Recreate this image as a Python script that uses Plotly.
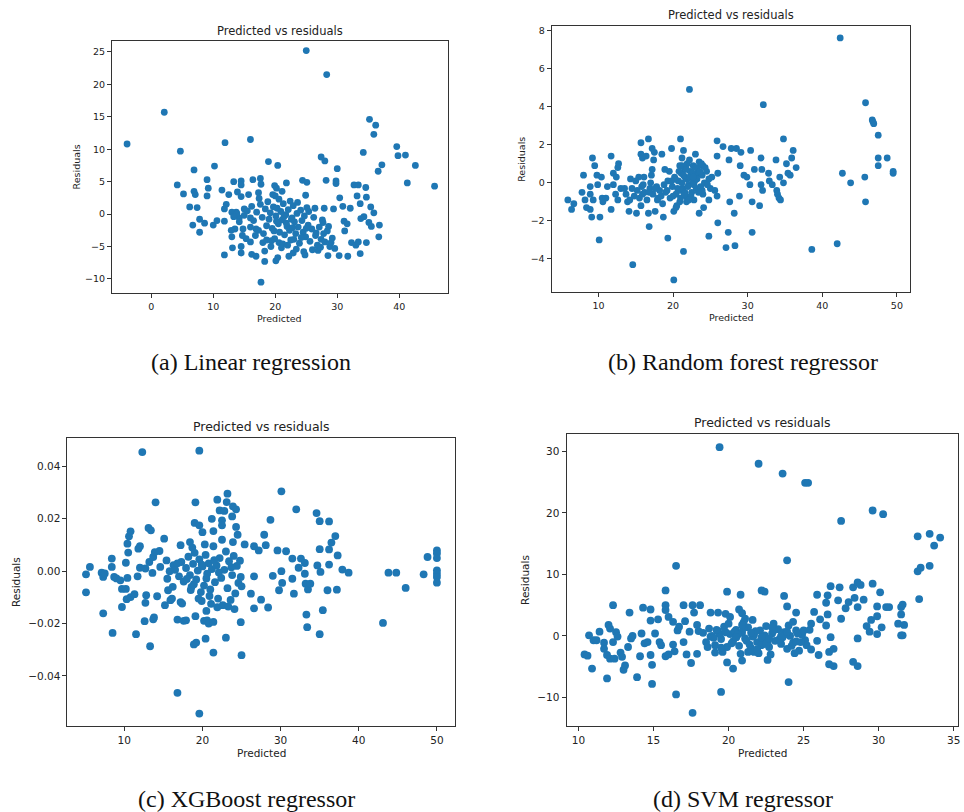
import plotly.graph_objects as go

# ---------------- DATA ----------------
# (a) Linear regression
lin_pred = [-3.9, 2.1, 4.7, 4.2, 5.2, 6.9, 6.2, 6.7, 6.9, 7.1, 7.4, 7.8, 7.8, 8.6, 9.0, 9.2, 9.0, 10.2, 10.0, 10.6,
            11.9, 11.4, 11.8, 11.8, 11.8, 12.5, 13.0, 13.0, 13.1, 13.3, 13.5, 13.9, 14.5, 14.5, 14.5, 14.5, 14.5, 14.7,
            13.7, 14.2, 15.0, 16.0, 15.7, 16.0, 16.2, 16.4, 16.0, 16.9, 16.9, 17.6, 17.7, 17.3, 17.7, 18.3, 18.3, 18.9,
            19.4, 19.9, 20.2, 20.4, 20.1, 20.4, 20.0, 21.1, 21.8, 22.2, 22.9, 20.6, 21.2, 24.4, 25.1, 24.9, 24.8, 25.0,
            28.3, 27.4, 28.0, 28.2, 26.9, 27.6, 27.9, 28.5, 30.0, 29.8, 29.8, 29.4, 30.4, 30.3, 31.7, 30.9, 31.1, 31.2,
            31.6, 32.1, 32.3, 32.7, 33.0, 33.4, 33.4, 33.7, 33.2, 33.7, 33.8, 34.2, 34.3, 34.6, 34.7, 34.7, 35.1, 35.2,
            36.2, 35.9, 35.4, 35.9, 36.6, 37.2, 36.8, 36.7, 35.5, 39.6, 39.8, 41.0, 41.3, 42.6, 45.7,
            15.0, 15.5, 16.2, 16.5, 17.0, 17.3, 17.6, 17.9, 18.1, 18.4, 18.6, 18.8, 19.0, 19.2, 19.5, 19.7, 19.9, 20.1,
            20.3, 20.5, 20.7, 20.9, 21.1, 21.3, 21.5, 21.7, 21.9, 22.1, 22.3, 22.5, 22.7, 22.9, 23.1, 23.3, 23.5, 23.7,
            23.9, 24.1, 24.3, 24.5, 24.7, 24.9, 25.1, 25.3, 25.6, 25.9, 26.2, 26.5, 26.8, 27.1, 27.4, 27.7, 28.0, 28.4,
            28.8, 29.2, 29.6, 14.2, 13.8, 16.8, 18.0, 19.3, 21.0, 22.0, 23.4, 24.6, 26.0, 27.3, 20.6, 22.4, 23.6, 19.6,
            17.4, 21.8, 22.8, 20.2, 24.2, 25.0, 26.6, 25.4, 22.6, 21.4, 23.0, 19.8, 18.6, 26.4, 27.8, 28.6, 29.0, 16.0,
            15.3, 14.8, 13.3, 12.9, 12.1]
lin_resid = [10.8, 15.7, 9.7, 4.5, 3.1, 6.8, 1.1, -1.7, 3.5, 3.0, 1.0, -0.8, -2.8, -1.4, 5.3, 4.0, 2.8, 7.4, -1.7, -1.0,
             11.0, 3.7, 0.8, -1.1, -6.3, 3.0, 0.3, -3.5, -5.2, 5.0, -2.3, 3.4, 5.1, 4.5, 2.7, -5.0, -6.0, -3.3,
             0.3, -0.6, 0.8, 11.5, 3.0, -0.6, -6.2, 5.3, -4.3, -6.5, -2.3, 5.5, 4.6, 3.3, -10.5, -7.3, -5.7, 8.1,
             -4.1, 4.4, 4.0, 7.5, -7.2, -6.7, 2.8, 3.5, 4.8, -6.5, -6.0, -4.4, -4.6, 5.2, 4.9, 2.9, -6.3, 25.2,
             21.5, 8.8, 8.2, 5.2, -5.6, -0.9, 0.9, -6.4, 7.0, 5.1, 4.7, 0.8, 2.5, -6.4, -6.5, 1.2, -1.1, -2.6,
             -1.5, 0.9, -4.4, 4.5, -4.8, 4.5, -4.3, -6.1, 2.8, 1.6, -0.7, 9.5, -0.4, 4.1, -4.4, 2.6, -1.3, 14.6,
             13.7, 12.3, 1.1, 0.2, 6.6, 7.6, -1.7, -3.5, -1.9, 10.4, 9.0, 9.1, 4.8, 7.5, 4.3,
             -0.2, 0.5, 1.2, -1.0, 0.3, -2.5, 1.5, -0.5, -3.0, 0.8, -1.8, 1.9, -0.8, 0.2, -2.2, 1.1, -3.8, -0.3,
             0.9, -1.5, -2.8, 0.4, -0.9, 1.6, -3.2, -0.1, -1.9, 0.7, -2.5, -4.0, -0.6, 1.3, -1.2, -3.0, 0.1, -2.0,
             -4.5, 0.6, -1.0, -2.8, -0.3, -3.5, 1.0, -1.7, -4.2, -2.3, -0.5, -3.3, -4.8, -2.0, -3.9, -1.3, -4.3, -2.6,
             -5.0, -3.7, -5.3, -1.2, 0.1, -3.3, -4.4, -5.0, -5.2, -4.8, -5.4, -5.8, -5.5, -5.1, 2.3, 2.0, 1.8, 3.0,
             2.4, -1.4, -2.1, -1.1, -3.6, -2.2, -2.9, 0.4, -0.8, -0.4, -3.9, -2.6, -4.0, 0.9, -3.0, -1.9, -4.4, -2.0,
             -3.8, -2.3, -0.4, -2.5, 1.5]

# (b) Random forest regressor
rf_pred = [5.9, 6.4, 6.7, 8.0, 7.8, 8.2, 8.4, 8.9, 8.9, 8.9, 9.1, 9.2, 9.5, 9.3, 9.8, 9.9, 10.1, 10.2, 10.4, 10.5,
           10.6, 11.0, 11.2, 11.7, 11.7, 12.0, 12.0, 12.4, 12.6, 12.7, 12.3, 12.6, 13.0, 13.7, 13.9, 14.1, 14.3, 14.6,
           15.1, 15.4, 15.7, 15.7, 15.7, 15.9, 16.1, 16.4, 16.7, 16.7, 16.8, 17.2, 17.4, 17.5, 17.2, 17.1, 17.6, 17.9,
           18.5, 18.7, 18.9, 19.3, 19.8, 20.1, 20.1, 20.4, 21.0, 21.2, 21.4, 21.4, 22.2, 21.9, 23.0, 23.5, 24.0, 24.1,
           24.8, 24.8, 25.9, 25.9, 25.9, 26.0, 26.0, 26.7, 27.1, 27.4, 27.6, 27.5, 27.8, 28.2, 28.3, 28.5, 29.1, 28.9,
           29.0, 29.5, 29.9, 30.4, 30.3, 30.6, 30.6, 30.9, 31.6, 31.8, 31.9, 32.1, 31.8, 32.0, 32.8, 32.9, 33.3, 33.8,
           33.9, 34.0, 34.2, 34.4, 34.3, 34.8, 34.8, 35.2, 35.4, 35.7, 35.9, 36.1, 36.5, 38.6, 42.0, 42.4, 42.7, 43.8,
           45.8, 45.7, 45.8, 46.7, 46.8, 46.9, 47.5, 47.5, 47.5, 48.7, 49.5, 49.5,
           14.5, 14.8, 15.2, 15.5, 15.8, 16.2, 16.5, 16.9, 17.3, 17.8, 18.2, 18.6, 19.0, 19.3, 19.6, 19.9, 20.2, 20.4,
           20.7, 20.9, 21.1, 21.3, 21.5, 21.7, 21.9, 22.1, 22.3, 22.5, 22.7, 22.9, 23.1, 23.3, 23.5, 23.7, 23.9, 24.2,
           24.5, 24.8, 25.2, 25.6, 21.0, 21.6, 22.2, 22.8, 20.5, 19.5, 18.8, 18.0, 17.0, 16.0, 15.0, 14.2, 13.5, 21.2,
           22.6, 23.2, 24.0, 23.8, 20.0, 21.8, 25.0,
           20.3, 20.6, 20.8, 21.0, 21.2, 21.4, 21.6, 21.8, 22.0, 22.2, 22.4, 22.6, 22.8, 23.0, 23.2, 23.4, 23.6, 22.1,
           21.5, 20.9, 22.7, 23.9, 24.3, 24.6, 19.8, 19.2, 18.4, 17.6, 16.8, 15.9]
rf_resid = [-0.9, -1.4, -1.1, 0.4, -0.5, -0.9, -1.3, -0.2, -0.6, -1.4, -1.8, 1.3, 0.9, -0.9, 0.4, -0.1, -3.0, -1.8, 0.3, -0.8,
            -1.0, -0.8, -0.2, 1.4, -1.4, 0.5, -0.1, 0.3, 0.8, 1.0, -0.6, -0.9, -0.3, -0.6, -1.0, -1.5, 0.2, -4.3,
            -1.6, 0.3, -1.2, 2.1, 1.5, 1.3, 0.3, 1.4, 2.3, -1.6, -2.3, 1.8, 1.2, 1.6, 0.7, 0.4, -1.5, -0.9,
            1.5, -1.8, 0.7, -2.9, 1.8, -1.5, -5.1, -1.3, 2.3, 1.3, 1.7, -3.6, 4.9, 1.0, 1.5, -1.6, 0.9, -1.3,
            -2.8, -0.9, 2.2, 1.4, -0.7, -2.1, 0.5, 1.9, -3.4, -2.6, -1.0, 1.2, 1.8, -1.6, -3.3, 1.8, 1.6, -0.7,
            0.9, 0.4, 0.3, 1.7, -0.1, -1.0, -2.6, 0.7, -1.2, 1.3, 0.7, 4.1, -0.1, -0.4, 0.5, 0.1, -0.1, 1.2,
            -0.4, -0.6, -0.8, -0.9, 0.3, 2.3, 0.0, 1.0, 0.5, 0.4, 1.3, 1.7, 0.8, -3.5, -3.2, 7.6, 0.5, 0.0,
            4.2, 0.3, -1.0, 3.3, 3.2, 3.1, 2.5, 1.3, 0.9, 1.3, 0.6, 0.5,
            -0.3, -0.7, -0.4, -0.8, -0.2, -0.5, -0.9, -0.3, -0.6, -0.2, -0.4, -1.1, -0.5, 0.1, -0.8, -0.2, 0.3, -0.6,
            0.1, -1.0, 0.5, -0.3, 0.8, -0.7, 0.2, -0.1, 0.6, -0.5, 0.9, 0.1, -0.3, 0.5, 1.1, -0.2, 0.4, 0.0,
            0.6, 0.2, 0.3, -0.4, -0.4, 0.3, 1.2, -0.9, -1.2, 0.6, -0.1, -0.8, 0.0, -0.1, 0.1, -0.9, -0.3, 0.9,
            0.0, 0.8, -0.6, 1.0, -0.7, -1.0, -0.3,
            0.2, -0.3, 0.6, -0.8, 0.0, 0.4, -0.5, 0.7, -0.2, 0.3, -0.7, 0.5, -0.1, 0.8, 0.2, -0.5, 0.6, -0.9,
            -0.6, 0.9, 0.3, -0.4, 0.8, -0.1, 0.1, -0.4, -0.7, -0.3, -0.5, -0.6]

# (c) XGBoost regressor
xgb_pred = [5.1, 5.1, 5.6, 7.1, 7.3, 7.3, 7.5, 8.4, 8.4, 8.5, 8.7, 9.0, 9.5, 9.7, 9.7, 10.2, 10.2, 10.4, 10.5, 10.4,
            10.6, 10.8, 10.3, 10.8, 11.3, 11.5, 11.7, 11.8, 12.0, 12.0, 12.3, 12.7, 12.8, 12.7, 12.6, 13.1, 13.4, 13.3,
            13.2, 13.6, 13.7, 13.7, 13.8, 14.0, 13.9, 14.2, 14.5, 14.6, 15.1, 15.2, 15.4, 15.5, 15.6, 15.9, 16.1, 16.3,
            16.8, 16.8, 17.2, 17.2, 17.4, 17.6, 17.9, 18.4, 18.5, 19.1, 19.0, 19.1, 18.9, 19.2, 19.6, 19.6, 19.6, 20.0,
            19.9, 20.2, 20.4, 20.5, 20.6, 20.8, 21.2, 21.4, 21.4, 21.4, 21.9, 22.2, 22.5, 22.5, 22.8, 23.2, 23.1, 23.0,
            23.9, 24.3, 23.8, 23.9, 24.3, 24.5, 25.0, 24.9, 24.9, 25.4, 26.2, 26.6, 26.6, 26.6, 27.2, 27.5, 27.9, 28.1,
            28.4, 28.7, 29.0, 29.6, 29.8, 30.1, 30.1, 30.2, 30.7, 31.5, 31.5, 31.7, 32.0, 32.3, 32.6, 33.1, 33.1, 33.2,
            33.3, 33.4, 33.5, 33.8, 34.6, 34.7, 35.0, 35.0, 35.0, 35.1, 35.4, 36.2, 36.2, 36.2, 36.0, 36.5, 37.0, 37.3,
            37.2, 37.9, 38.7, 43.1, 43.8, 44.8, 46.0, 48.3, 48.8, 50.0, 50.0, 50.0, 50.0, 50.0, 50.0, 50.0,
            16.5, 17.0, 17.3, 17.6, 17.9, 18.2, 18.4, 18.6, 18.8, 19.0, 19.2, 19.4, 19.6, 19.8, 20.0, 20.2, 20.4, 20.6,
            20.8, 21.0, 21.2, 21.4, 21.6, 21.8, 22.0, 22.2, 22.4, 22.6, 22.8, 23.0, 23.2, 23.4, 23.6, 23.8, 24.0, 24.2,
            24.4, 24.6, 24.8, 25.0, 18.0, 18.7, 19.5, 20.3, 21.1, 21.9, 22.5, 16.8, 16.2, 15.8, 19.9, 20.5, 21.5, 22.1,
            23.3, 24.1, 23.7, 18.9, 20.9]
xgb_resid_milli = [-1.2, -8.1, 1.6, -0.6, -2.2, -16.1, -0.9, 4.8, 1.6, -23.6, -2.2, -2.8, -3.5, -6.8, -13.7, 3.2, -6.8,
                   -2.6, 7.1, 10.5, 13.3, 15.2, -10.7, -9.9, -8.8, -24.1, -2.0, 8.6, 9.5, 1.3, 45.5, 1.0, -9.2, -12.1,
                   -19.1, 16.5, 15.6, -28.7, 3.5, -0.7, 5.4, -18.4, -17.7, 26.3, 7.3, -9.6, 7.7, 1.6, 12.4, -13.0, 4.1,
                   -2.9, -7.3, -11.1, -10.5, 2.3, -46.5, -18.5, 9.9, -11.8, -12.4, -19.0, -18.8, 11.1, -7.2, 26.3, 18.4,
                   -17.2, -28.0, -27.3, 46.0, -54.4, 17.5, 14.9, -11.4, -19.0, -25.8, -15.2, -18.8, -20.0, 20.0, 15.3,
                   -31.1, -19.4, 27.3, 23.2, 19.4, 17.5, 23.0, 29.6, 26.4, -25.4, 24.7, 23.6, 20.9, 11.1, 16.9, 13.9,
                   -32.1, -19.5, -2.2, 10.2, -8.6, 9.5, -2.0, -14.2, 7.9, -10.9, 13.9, 9.9, -13.9, 19.6, -1.8, 7.9,
                   -7.3, 30.5, 0.0, -4.5, 7.6, 4.8, -2.9, -8.6, 23.6, 1.3, 4.8, 3.1, -1.0, -4.8, -16.6, -21.4, -7.0,
                   -4.8, 22.2, 2.2, 19.1, 8.4, -24.1, -0.3, -14.9, 19.0, 2.5, 8.3, -7.3, 10.9, 13.4, 6.0, -7.1, 0.6,
                   -0.6, -19.8, -0.6, -0.6, -6.4, -1.2, 5.4, 7.9, 6.7, 5.0, 0.3, -1.0, -2.2, -4.4,
                   0.5, -2.0, 3.5, -4.0, 1.2, 5.5, -1.5, -6.0, 2.8, 7.0, -3.2, 0.2, 4.5, -8.0, 1.8, -5.5, 6.2, -1.0,
                   3.0, -7.0, 0.8, 9.5, -4.2, 2.2, -10.5, 5.0, -2.6, -13.0, 0.5, 7.5, -6.5, 3.8, -11.0, -1.5, 5.8,
                   -8.5, 2.0, -4.5, 4.0, -5.8, -3.0, 9.0, -10.5, 10.2, -12.5, -13.8, 12.0, 3.0, -6.0, 0.0, 2.5, -2.8,
                   4.2, -0.5, -13.5, -14.5, 1.5, -5.0, -9.5]
xgb_resid = [v / 1000 for v in xgb_resid_milli]

# (d) SVM regressor
svm_pred = [10.4, 10.6, 10.7, 10.9, 11.0, 11.2, 11.4, 11.7, 11.9, 11.7, 11.9, 12.0, 12.1, 12.1, 12.3, 12.3, 12.4, 12.5,
            12.6, 12.8, 12.9, 13.0, 13.1, 13.3, 13.4, 13.5, 13.6, 13.9, 14.1, 14.2, 14.3, 14.4, 14.8, 14.8, 14.8, 14.9,
            14.9, 15.1, 15.3, 15.4, 15.8, 15.8, 15.8, 15.8, 16.0, 16.3, 16.3, 16.5, 16.5, 16.6, 16.7, 17.0, 17.1, 17.4,
            17.5, 17.6, 17.6, 17.7, 17.9, 17.9, 18.1, 18.8, 18.8, 19.1, 19.3, 19.4, 19.5, 19.8, 19.9, 19.9, 20.1, 20.3,
            20.5, 20.8, 20.7, 20.9, 21.1, 20.9, 21.6, 21.7, 22.0, 22.2, 22.4, 22.6, 23.6, 23.7, 23.9, 23.9, 24.0, 24.3,
            24.5, 25.1, 25.3, 25.1, 25.4, 25.5, 25.7, 25.9, 25.9, 26.0, 26.1, 26.5, 26.6, 26.5, 26.6, 26.8, 26.7, 26.8,
            26.7, 27.0, 27.0, 27.3, 27.4, 27.5, 27.5, 27.8, 28.0, 28.3, 28.4, 28.3, 28.6, 28.8, 28.6, 28.6, 28.6, 29.0,
            29.2, 29.4, 29.5, 29.6, 29.6, 29.9, 29.9, 29.9, 30.1, 30.2, 30.3, 30.5, 30.7, 31.3, 31.5, 31.5, 31.5, 31.6,
            31.6, 31.7, 32.6, 32.6, 32.8, 32.7, 33.4, 33.4, 33.7, 34.1,
            18.3, 18.5, 18.7, 18.9, 19.1, 19.3, 19.5, 19.7, 19.9, 20.1, 20.3, 20.5, 20.7, 20.9, 21.1, 21.3, 21.5, 21.7,
            21.9, 22.1, 22.3, 22.5, 22.7, 22.9, 23.1, 23.3, 23.5, 23.7, 23.9, 24.1, 24.3, 24.5, 24.7, 24.9, 20.0, 21.0,
            22.0, 23.0, 24.0, 21.6, 22.4, 23.6, 19.6, 20.8, 22.8, 17.0, 16.4, 17.2, 15.5, 16.0, 14.6, 18.0, 25.2, 25.5,
            24.4, 22.2, 21.2, 20.4, 19.4,
            19.0, 19.2, 19.8, 20.2, 20.6, 21.0, 21.4, 21.8, 22.2, 22.6, 23.0, 23.4, 23.8, 24.2, 24.6, 19.5, 20.5, 21.5,
            22.5, 23.5, 24.5, 20.9, 21.9, 22.9, 23.9, 21.3, 22.7, 18.6, 24.8, 25.0]
svm_resid = [-3.0, -3.2, 0.1, -5.3, -0.7, -0.7, 0.7, -1.1, -6.9, -2.1, -3.1, 1.8, 1.2, -3.7, 5.0, -1.0, -3.7, 0.6,
             -0.1, -2.7, -3.4, -5.5, -4.8, -1.8, 3.8, -0.4, 0.0, -6.7, -3.3, 0.4, 4.6, -1.2, 2.5, 4.3, -3.1, -7.8,
             -4.7, 0.4, 2.7, -1.0, -3.3, 7.4, 5.0, 4.2, 3.1, 2.3, -1.4, -9.5, 11.4, 0.9, 1.5, 5.0, 2.4, 0.7,
             -4.4, 5.0, -12.5, 3.8, 1.8, -2.9, 5.0, 3.8, -0.1, -2.7, 3.8, 30.7, -9.1, 3.6, 7.2, -4.3, 3.1, -5.3,
             -0.2, 6.7, 4.3, 3.7, 2.8, -4.0, 2.6, -2.6, 28.0, 7.4, 7.2, -3.9, 26.4, 6.5, 4.8, 12.3, -7.5, 2.3,
             3.8, 24.9, 24.9, -0.7, 1.0, 2.0, 3.9, -0.8, 6.7, -3.1, 2.7, 5.4, 6.6, 1.7, 3.5, -0.2, -2.6, 8.1,
             -4.6, -2.1, -4.9, 5.8, 7.9, 18.7, 2.8, 4.5, 5.5, 7.9, 6.2, -4.2, 8.7, 8.3, 4.7, -0.4, -4.9, 5.9,
             1.6, 0.7, 2.6, 20.4, 8.5, 0.3, 3.2, 4.8, 7.1, 1.4, 19.8, 4.7, 4.7, 2.0, 4.7, 3.5, 0.1, 5.1,
             0.1, 1.8, 16.2, 10.5, 11.1, 6.0, 16.6, 11.4, 14.7, 16.0,
             0.5, -1.0, 1.2, 0.0, -1.5, 0.8, -0.5, 1.5, -1.8, 0.3, -0.9, 1.0, -1.6, 0.5, -0.4, 1.4, -2.0, 0.2,
             -1.0, 0.9, -0.6, 1.6, -1.8, 0.4, -0.8, 1.1, -1.3, 0.6, -2.1, 0.0, -1.1, 0.9, -2.4, 0.2, 2.0, 2.2,
             -2.8, 2.0, 1.7, -0.1, 0.1, -0.2, -2.6, -2.9, -3.0, -1.0, -2.5, -3.0, -1.5, -3.0, -1.0, 0.8, -1.5, -2.2,
             -2.8, -1.5, -0.8, 0.7, 0.3,
             -0.3, 1.0, 0.6, -1.2, 0.2, 1.3, -1.4, 0.8, -0.2, -1.0, 0.9, -0.5, 0.3, -1.6, 0.4, -1.9, -0.2, 0.5,
             -1.3, 0.0, -0.9, 1.8, -2.2, 1.4, 0.7, -2.6, -0.4, -1.8, -1.0, 0.9]

captions = ["(a) Linear regression", "(b) Random forest regressor",
            "(c) XGBoost regressor", "(d) SVM regressor"]
panel_title = "Predicted vs residuals"

# ---------------- LAYOUT ----------------
W, H = 964, 812
BLUE = "#1f77b4"
FONT = "DejaVu Sans"

def fx(px):
    return px / W

def fy(py):
    return 1 - py / H

panels = [
    dict(x=lin_pred, y=lin_resid, box=(112.3, 449.0, 40.0, 292.7), xr=[-6.34, 47.8], yr=[-12.22, 26.69],
         xt=[0, 10, 20, 30, 40], yt=[-10, -5, 0, 5, 10, 15, 20, 25], yfmt=None, fs=9.5, ts=11.5, ms=6.8,
         title_y=30, xl_y=317.5, yl_x=76.5, cap=(252, 361)),
    dict(x=rf_pred, y=rf_resid, box=(553.3, 913.3, 25.0, 291.7), xr=[3.72, 51.82], yr=[-5.75, 8.23],
         xt=[10, 20, 30, 40, 50], yt=[-4, -2, 0, 2, 4, 6, 8], yfmt=None, fs=9.5, ts=11.5, ms=6.8,
         title_y=14.3, xl_y=316.5, yl_x=522.3, cap=(745, 361)),
    dict(x=xgb_pred, y=xgb_resid, box=(67.7, 456.0, 437.7, 726.0), xr=[2.73, 52.26], yr=[-0.0592, 0.0508],
         xt=[10, 20, 30, 40, 50], yt=[-0.04, -0.02, 0.0, 0.02, 0.04], yfmt=".2f", fs=10.5, ts=12.5, ms=7.8,
         title_y=426, xl_y=753.3, yl_x=16, cap=(247, 799)),
    dict(x=svm_pred, y=svm_resid, box=(568.3, 960.7, 434.0, 726.0), xr=[9.20, 35.27], yr=[-14.66, 32.76],
         xt=[10, 15, 20, 25, 30, 35], yt=[-10, 0, 10, 20, 30], yfmt=None, fs=10.5, ts=12.5, ms=7.8,
         title_y=422.3, xl_y=753.3, yl_x=527.3, cap=(745, 799)),
]

fig = go.Figure()
annotations = []
layout_axes = {}
for i, p in enumerate(panels, start=1):
    l, r, t, b = p["box"]
    xa = "x" if i == 1 else f"x{i}"
    ya = "y" if i == 1 else f"y{i}"
    fig.add_trace(go.Scatter(x=p["x"], y=p["y"], mode="markers", xaxis=xa, yaxis=ya,
                             marker=dict(color=BLUE, size=p["ms"], line=dict(width=0)),
                             showlegend=False, hoverinfo="x+y"))
    common = dict(showline=True, mirror=True, linecolor="#333333", linewidth=1, showgrid=False,
                  zeroline=False, ticks="outside", ticklen=4, tickcolor="#333333", tickwidth=1,
                  tickfont=dict(family=FONT, size=p["fs"], color="#222222"))
    xkey = "xaxis" if i == 1 else f"xaxis{i}"
    ykey = "yaxis" if i == 1 else f"yaxis{i}"
    layout_axes[xkey] = dict(domain=[fx(l), fx(r)], range=p["xr"], anchor=ya, tickmode="array",
                             tickvals=p["xt"], **common)
    ydict = dict(domain=[fy(b), fy(t)], range=p["yr"], anchor=xa, tickmode="array", tickvals=p["yt"], **common)
    if p["yfmt"]:
        ydict["tickformat"] = p["yfmt"]
    layout_axes[ykey] = ydict
    cx = (l + r) / 2
    cy = (t + b) / 2
    annotations.append(dict(text=panel_title, x=fx(cx), y=fy(p["title_y"]), xref="paper", yref="paper",
                            showarrow=False, xanchor="center", yanchor="middle",
                            font=dict(family=FONT, size=p["ts"], color="#222222")))
    annotations.append(dict(text="Predicted", x=fx(cx), y=fy(p["xl_y"]), xref="paper", yref="paper",
                            showarrow=False, xanchor="center", yanchor="middle",
                            font=dict(family=FONT, size=p["fs"], color="#222222")))
    annotations.append(dict(text="Residuals", x=fx(p["yl_x"]), y=fy(cy), xref="paper", yref="paper",
                            showarrow=False, xanchor="center", yanchor="middle", textangle=-90,
                            font=dict(family=FONT, size=p["fs"], color="#222222")))
    annotations.append(dict(text=captions[i - 1], x=fx(p["cap"][0]), y=fy(p["cap"][1]), xref="paper",
                            yref="paper", showarrow=False, xanchor="center", yanchor="middle",
                            font=dict(family="Liberation Serif", size=24, color="#111111")))

fig.update_layout(width=W, height=H, autosize=False, margin=dict(l=0, r=0, t=0, b=0),
                  paper_bgcolor="white", plot_bgcolor="white", annotations=annotations, **layout_axes)

fig.write_html("out.html", config={"displayModeBar": False},
               post_script="document.body.style.margin='0px';document.body.style.overflow='hidden';")
